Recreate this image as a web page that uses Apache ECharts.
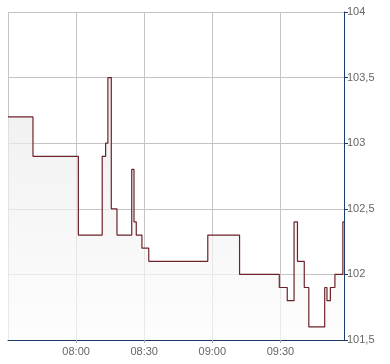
<!DOCTYPE html>
<html><head><meta charset="utf-8">
<script src="https://cdn.jsdelivr.net/npm/echarts@6/dist/echarts.min.js"></script>
<style>html,body{margin:0;padding:0;background:#fff}#c{width:390px;height:364px}</style>
</head><body><div id="c"></div>
<script>
// minutes since midnight at which each price level starts
const times = [450, 461, 481, 491.5, 493, 494, 495.5, 498, 504.5, 505.5, 506.5, 509, 512, 538, 552, 569.5, 573, 576, 577.5, 580.5, 582.5, 589.5, 590.5, 592, 594, 597.5, 598];
const prices = [103.2, 102.9, 102.3, 102.9, 103.0, 103.5, 102.5, 102.3, 102.8, 102.4, 102.3, 102.2, 102.1, 102.3, 102.0, 101.9, 101.8, 102.4, 102.1, 101.9, 101.6, 101.9, 101.8, 101.9, 102.0, 102.4, 102.4];
const yTicks = [101.5, 102, 102.5, 103, 103.5, 104];

const data = times.map((t, i) => [t, prices[i]]);
const pad = n => (n < 10 ? '0' : '') + n;
const chart = echarts.init(document.getElementById('c'));
chart.setOption({
  animation: false,
  grid: { left: 8, right: 46, top: 12, bottom: 24 },
  xAxis: {
    type: 'value', min: 450, max: 598, interval: 30,
    axisLine: { show: true, lineStyle: { color: '#1c3a6b', width: 1 } },
    axisTick: { show: true, length: 3, lineStyle: { color: '#aaa' } },
    axisLabel: { showMinLabel: false, showMaxLabel: false, color: '#666', fontFamily: 'Liberation Sans, Arial', fontSize: 11, margin: 6,
      formatter: v => pad(Math.floor(v / 60)) + ':' + pad(v % 60) },
    splitLine: { show: true, lineStyle: { color: '#c4c4c4', width: 1 } }
  },
  yAxis: {
    type: 'value', position: 'right', min: yTicks[0], max: yTicks[yTicks.length - 1], interval: 0.5,
    axisLine: { show: true, lineStyle: { color: '#1c3a6b', width: 1 } },
    axisTick: { show: true, length: 4, lineStyle: { color: '#1c3a6b' } },
    axisLabel: { color: '#666', fontFamily: 'Liberation Sans, Arial', fontSize: 11, margin: 3,
      formatter: v => String(v).replace('.', ',') },
    splitLine: { show: true, lineStyle: { color: '#c4c4c4', width: 1 } }
  },
  series: [{
    type: 'line', step: 'end', data: data, symbol: 'none',
    lineStyle: { color: '#6b2328', width: 1.2 },
    areaStyle: { origin: 'start', color: new echarts.graphic.LinearGradient(0, 0, 0, 1, [
      { offset: 0, color: '#e8e8e8' }, { offset: 1, color: '#fbfbfb' }]) }
  }]
});
</script>
</body></html>
